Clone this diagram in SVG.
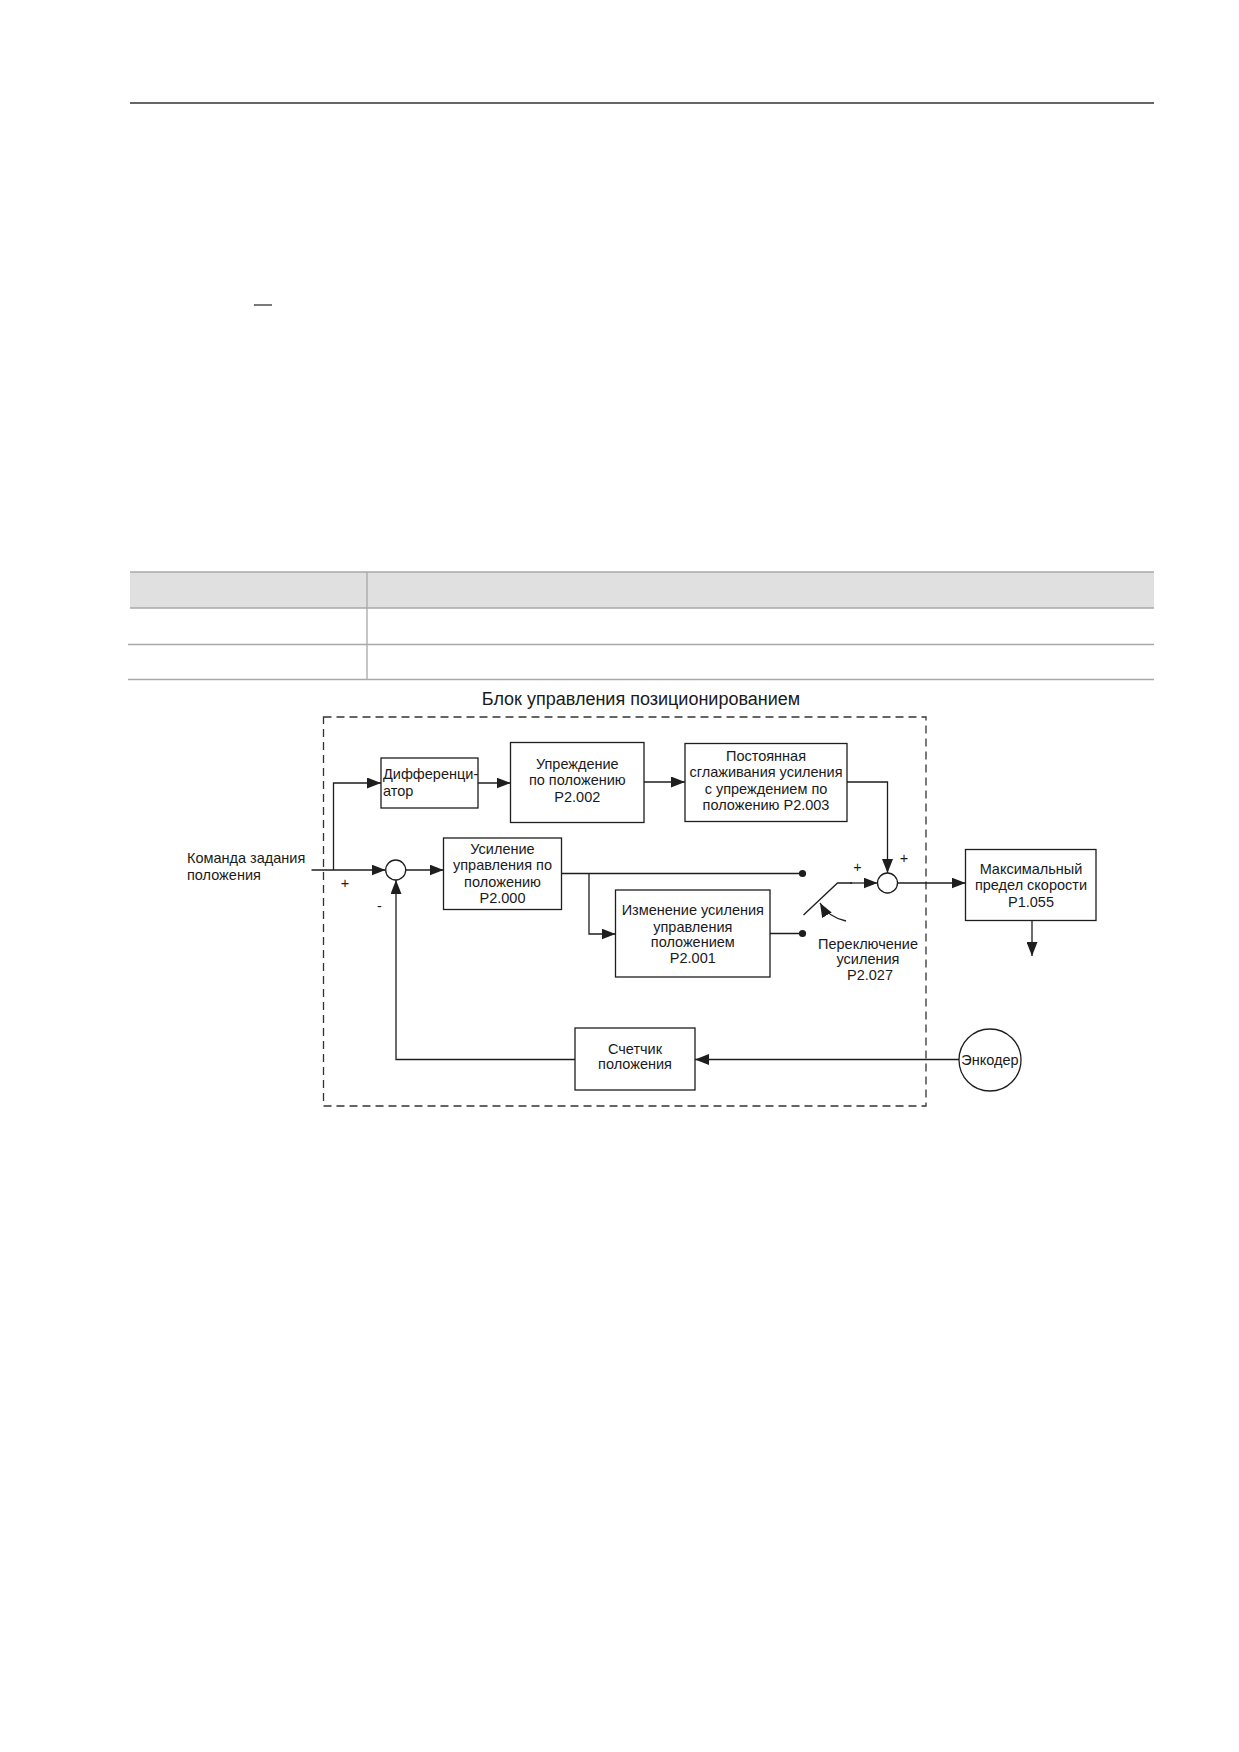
<svg xmlns="http://www.w3.org/2000/svg" width="1239" height="1752" viewBox="0 0 1239 1752">
<defs>
<style>
.bg{fill:#ffffff}
.rule{stroke:#333;stroke-width:1.5;fill:none}
.tl{stroke:#a8a8a8;stroke-width:1.3;fill:none}
.box{fill:#fff;stroke:#1e1e1e;stroke-width:1.3}
.ln{fill:none;stroke:#1e1e1e;stroke-width:1.3}
.arr{fill:none;stroke:#1e1e1e;stroke-width:1.3;marker-end:url(#ah)}
.dash{fill:none;stroke:#333;stroke-width:1.3;stroke-dasharray:8 5}
.t{font-family:"Liberation Sans",Arial,sans-serif;font-size:14.5px;fill:#1a1a1a}
.c{text-anchor:middle}
.title{font-family:"Liberation Sans",Arial,sans-serif;font-size:18px;fill:#1a1a1a;text-anchor:middle}
</style>
<marker id="ah" markerWidth="14" markerHeight="11" refX="14" refY="5.5" orient="auto" markerUnits="userSpaceOnUse">
<path d="M0,0 L14,5.5 L0,11 z" fill="#1e1e1e"/>
</marker>
</defs>
<rect class="bg" x="0" y="0" width="1239" height="1752"/>

<g id="page">
<line class="rule" x1="130" y1="103" x2="1154" y2="103"/>
<line x1="254" y1="305" x2="272" y2="305" stroke="#333" stroke-width="1.3"/>
</g>

<g id="table">
<rect x="130" y="572" width="1024" height="36" fill="#e0e0e0"/>
<line class="tl" x1="130" y1="572" x2="1154" y2="572"/>
<line class="tl" x1="130" y1="608" x2="1154" y2="608"/>
<line class="tl" x1="128" y1="644.5" x2="1154" y2="644.5"/>
<line class="tl" x1="128" y1="679.5" x2="1154" y2="679.5"/>
<line class="tl" x1="367" y1="572" x2="367" y2="679.5"/>
</g>

<text class="title" x="641" y="705">Блок управления позиционированием</text>

<g id="boundary">
<rect class="dash" x="323.5" y="717" width="602.5" height="389"/>
</g>

<g id="connectors">
<line class="arr" x1="311.5" y1="870" x2="385.5" y2="870"/>
<polyline class="arr" points="333.5,870 333.5,783 381,783"/>
<line class="arr" x1="478" y1="783" x2="510.5" y2="783"/>
<line class="arr" x1="644" y1="782" x2="685" y2="782"/>
<polyline class="arr" points="847,782 887.5,782 887.5,873"/>
<line class="arr" x1="405.5" y1="870" x2="443.5" y2="870"/>
<line class="ln" x1="561.5" y1="873.5" x2="802.5" y2="873.5"/>
<polyline class="arr" points="589,873.5 589,934 615.5,934"/>
<line class="ln" x1="770" y1="933.5" x2="802.5" y2="933.5"/>
<polyline class="ln" points="803.5,915 837.5,883 852,883"/>
<line class="arr" x1="850" y1="883" x2="877.5" y2="883"/>
<path class="arr" d="M846,921 Q828,917 820,903"/>
<line class="arr" x1="897.5" y1="883" x2="965.5" y2="883"/>
<line class="arr" x1="1032" y1="920.5" x2="1032" y2="956"/>
<line class="arr" x1="959" y1="1059.5" x2="695" y2="1059.5"/>
<polyline class="arr" points="575,1059.5 396,1059.5 396,880"/>
<circle cx="802.5" cy="873.5" r="3.6" fill="#1e1e1e"/>
<circle cx="802.5" cy="933.5" r="3.6" fill="#1e1e1e"/>
</g>

<g id="input-label">
<text class="t" x="187" y="863">Команда задания</text>
<text class="t" x="187" y="879.5">положения</text>
<text class="t c" x="345" y="888">+</text>
<text class="t c" x="379.5" y="911">-</text>
</g>

<g id="sum1">
<circle class="box" cx="395.7" cy="870" r="10"/>
</g>

<g id="differentiator">
<rect class="box" x="381" y="758" width="97" height="50"/>
<text class="t" x="383" y="779">Дифференци-</text>
<text class="t" x="383" y="796">атор</text>
</g>

<g id="feedforward">
<rect class="box" x="510.5" y="742.5" width="133.5" height="80"/>
<text class="t c" x="577.3" y="768.5">Упреждение</text>
<text class="t c" x="577.3" y="785">по положению</text>
<text class="t c" x="577.3" y="801.5">P2.002</text>
</g>

<g id="smoothing">
<rect class="box" x="685" y="743.5" width="162" height="78"/>
<text class="t c" x="766" y="760.5">Постоянная</text>
<text class="t c" x="766" y="777">сглаживания усиления</text>
<text class="t c" x="766" y="793.5">с упреждением по</text>
<text class="t c" x="766" y="810">положению P2.003</text>
</g>

<g id="gain">
<rect class="box" x="443.5" y="838" width="118" height="71.5"/>
<text class="t c" x="502.5" y="853.5">Усиление</text>
<text class="t c" x="502.5" y="870">управления по</text>
<text class="t c" x="502.5" y="886.5">положению</text>
<text class="t c" x="502.5" y="903">P2.000</text>
</g>

<g id="gain-change">
<rect class="box" x="615.5" y="890" width="154.5" height="87"/>
<text class="t c" x="692.8" y="915">Изменение усиления</text>
<text class="t c" x="692.8" y="931.5">управления</text>
<text class="t c" x="692.8" y="947">положением</text>
<text class="t c" x="692.8" y="963">P2.001</text>
</g>

<g id="switch-label">
<text class="t c" x="868" y="948.5">Переключение</text>
<text class="t c" x="868" y="964">усиления</text>
<text class="t c" x="870" y="979.5">P2.027</text>
<text class="t c" x="857.5" y="872">+</text>
<text class="t c" x="904" y="863">+</text>
</g>

<g id="sum2">
<circle class="box" cx="887.5" cy="883" r="10"/>
</g>

<g id="speed-limit">
<rect class="box" x="965.5" y="849.5" width="130.5" height="71"/>
<text class="t c" x="1031" y="873.5">Максимальный</text>
<text class="t c" x="1031" y="890">предел скорости</text>
<text class="t c" x="1031" y="906.5">P1.055</text>
</g>

<g id="counter">
<rect class="box" x="575" y="1028" width="120" height="62"/>
<text class="t c" x="635" y="1053.5">Счетчик</text>
<text class="t c" x="635" y="1069">положения</text>
</g>

<g id="encoder">
<circle class="box" cx="990" cy="1060" r="31"/>
<text class="t c" x="990" y="1065">Энкодер</text>
</g>
</svg>
